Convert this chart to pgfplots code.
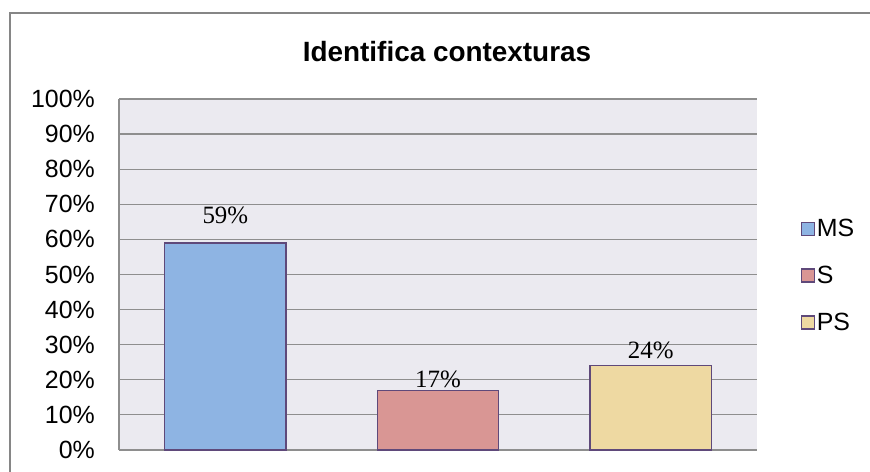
\documentclass[border=0pt]{standalone}
\usepackage{pgfplots}
\pgfplotsset{compat=1.18}
\usepackage{fontspec}
\setmainfont{Liberation Sans}
\newfontfamily\seriffont{Liberation Serif}
\definecolor{bgc}{HTML}{EBEAF0}
\definecolor{gridc}{HTML}{8E8E8E}
\definecolor{framec}{HTML}{868686}
\definecolor{msc}{HTML}{8EB4E3}
\definecolor{sc}{HTML}{D99694}
\definecolor{psc}{HTML}{EED9A2}
\definecolor{edgec}{HTML}{5F497A}
\begin{document}
\begin{tikzpicture}[x=1bp,y=1bp]
\useasboundingbox (0,0) rectangle (870,472);
\draw[framec, line width=1.3bp] (10,-20) rectangle (890,459);
\node[anchor=base, font=\fontsize{28}{28}\selectfont\bfseries] at (447,410) {Identifica contexturas};
\begin{axis}[
  at={(119bp,22bp)}, anchor=south west,
  scale only axis, width=638bp, height=351bp,
  xmin=-0.5, xmax=2.5, ymin=0, ymax=100,
  axis background/.style={fill=bgc},
  axis x line*=bottom, axis y line*=left,
  axis line style={gridc, line width=1.2bp},
  xtick=\empty,
  ytick={0,10,...,100},
  yticklabel={\pgfmathprintnumber{\tick}\%},
  major tick length=0pt,
  ymajorgrids, grid style={gridc, line width=1.2bp},
  /pgf/number format/assume math mode=true,
  tick label style={font=\fontsize{25}{25}\selectfont},
  yticklabel style={inner sep=0pt, xshift=-24bp},
  ybar, bar width=0.57, bar shift=0pt,
  clip=false,
  nodes near coords={\seriffont\pgfmathprintnumber{\pgfplotspointmeta}\%},
  every node near coord/.append style={font=\fontsize{25}{25}\selectfont, anchor=base, inner sep=0pt, black},
  legend cell align=left,
  legend image code/.code={\draw[#1] (0bp,-6.5bp) rectangle (13bp,6.5bp);},
  legend style={draw=none, fill=none, at={(1.064,0.668)}, anchor=north west,
    font=\fontsize{25}{25}\selectfont, row sep=25bp,
    nodes={inner sep=1.5bp},
    /tikz/every even column/.append style={column sep=0bp}},
]
\addplot[fill=msc, draw=edgec, line width=1.3bp, every node near coord/.append style={yshift=19bp}] coordinates {(0,59)};
\addlegendentry{MS}
\addplot[fill=sc, draw=edgec, line width=1.3bp, every node near coord/.append style={yshift=3bp}] coordinates {(1,17)};
\addlegendentry{S}
\addplot[fill=psc, draw=edgec, line width=1.3bp, every node near coord/.append style={yshift=7bp}] coordinates {(2,24)};
\addlegendentry{PS}
\end{axis}
\end{tikzpicture}
\end{document}
